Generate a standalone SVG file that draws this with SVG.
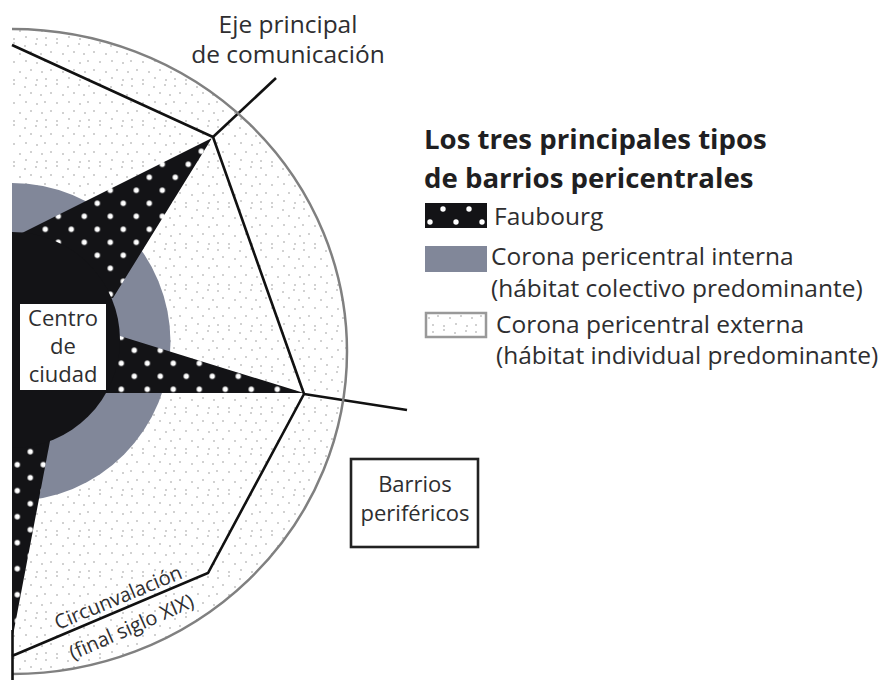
<svg xmlns="http://www.w3.org/2000/svg" width="882" height="680" viewBox="0 0 882 680">
<style>
text{font-family:"Open Sans","Noto Sans",sans-serif;fill:#2e2e30;font-size:24.5px}
.c{text-anchor:middle}
.s{font-size:22px}
.r{font-size:20px}
.h{font-size:27.6px;font-weight:700;fill:#1f1f22}
.l{fill:none;stroke:#111;stroke-width:2.6}
.d{fill:#fff}
</style>
<defs>
<pattern id="sp" width="43" height="41" patternUnits="userSpaceOnUse">
<g fill="#8c8c8c"><circle cx="3" cy="4" r=".75"/><circle cx="14" cy="2" r=".75"/><circle cx="25" cy="5" r=".75"/><circle cx="36" cy="3" r=".75"/><circle cx="8" cy="11" r=".75"/><circle cx="20" cy="13" r=".75"/><circle cx="31" cy="11" r=".75"/><circle cx="41" cy="13" r=".75"/><circle cx="2" cy="20" r=".75"/><circle cx="14" cy="21" r=".75"/><circle cx="26" cy="20" r=".75"/><circle cx="37" cy="22" r=".75"/><circle cx="8" cy="29" r=".75"/><circle cx="20" cy="31" r=".75"/><circle cx="31" cy="29" r=".75"/><circle cx="42" cy="31" r=".75"/><circle cx="3" cy="38" r=".75"/><circle cx="14" cy="39" r=".75"/><circle cx="26" cy="37" r=".75"/><circle cx="37" cy="39" r=".75"/></g>
</pattern>
<pattern id="f1" width="26" height="26" patternUnits="userSpaceOnUse" x="39.3" y="223.3">
<rect width="26" height="26" fill="#131316"/><circle cx="6" cy="6" r="2.7" class="d"/><circle cx="19" cy="19" r="2.7" class="d"/>
</pattern>
<pattern id="f2" href="#f1" x="115.3" y="383.3"/>
<pattern id="f3" href="#f1" x="11.3" y="458.7"/>
<pattern id="f4" href="#f1" x="424" y="216"/>
<clipPath id="cp"><rect x="12" y="0" width="400" height="680"/></clipPath>
</defs>
<g id="zones" clip-path="url(#cp)">
<ellipse id="outer" cx="12" cy="351.5" rx="335" ry="322.5" fill="url(#sp)"/>
<ellipse id="inner" cx="12" cy="342" rx="158.5" ry="159" fill="#818799"/>
</g>
<g id="faubourg" clip-path="url(#cp)">
<path d="M12 233 L22 233 L212 138 L113 298 L60 300 Z" fill="url(#f1)"/>
<path d="M120 336 L304 393 L100 393 Z" fill="url(#f2)"/>
<path d="M12 430 L50 441 L14 630 L12 640 Z" fill="url(#f3)"/>
<circle cx="12" cy="340" r="108" fill="#131316"/>
</g>
<g id="centro">
<rect x="20" y="304" width="86" height="86" fill="#fff"/>
<text class="c s" x="63" y="326">Centro</text>
<text class="c s" x="63" y="354">de</text>
<text class="c s" x="63" y="382">ciudad</text>
</g>
<g id="connectors">
<path class="l" d="M12 45 L213 137 L304 394 L208 573 L12 656"/>
<path class="l" d="M213 137 L276 78"/>
<path class="l" d="M304 394 L407 410"/>
<path d="M12 29 A335 322.5 0 0 1 12 674" fill="none" stroke="#808080" stroke-width="2.5"/>
<path d="M12.5 630 V680" class="l"/>
</g>
<g id="eje">
<text class="c" x="288" y="33">Eje principal</text>
<text class="c" x="288" y="63">de comunicación</text>
</g>
<g id="barrios">
<rect x="351" y="459" width="127" height="88" fill="#fff" stroke="#222" stroke-width="2.6"/>
<text class="c s" x="415" y="492">Barrios</text>
<text class="c s" x="415" y="521">periféricos</text>
</g>
<g id="circ">
<text class="r" transform="translate(58 630) rotate(-22.6)">Circunvalación</text>
<text class="r" transform="translate(73 660) rotate(-23.7)">(final siglo XIX)</text>
</g>
<g id="legend">
<text class="h" x="424" y="149">Los tres principales tipos</text>
<text class="h" x="424" y="188">de barrios pericentrales</text>
<rect x="425" y="203" width="62" height="25" fill="url(#f4)"/>
<text x="494" y="225">Faubourg</text>
<rect x="425" y="246" width="62" height="26" fill="#818799"/>
<text x="491" y="265">Corona pericentral interna</text>
<text x="491" y="297">(hábitat colectivo predominante)</text>
<rect x="426" y="313" width="60" height="24" fill="url(#sp)" stroke="#999" stroke-width="2.5"/>
<text x="496" y="333">Corona pericentral externa</text>
<text x="496" y="364">(hábitat individual predominante)</text>
</g>
</svg>
